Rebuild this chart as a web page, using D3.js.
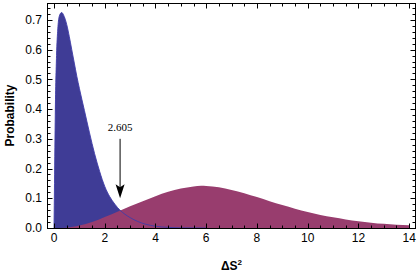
<!DOCTYPE html>
<html><head><meta charset="utf-8">
<script src="https://cdn.jsdelivr.net/npm/d3@7"></script>
<style>html,body{margin:0;padding:0;background:#fff;} svg{display:block;}</style>
</head><body>
<script>
// ---- data ----
const blueX = [0,0.02,0.05,0.1,0.15,0.2,0.3,0.4,0.5,0.6,0.7,0.8,0.9,1.0,1.2,1.4,1.6,1.8,2.0,2.2,2.4,2.6,2.8,3.0,3.3,3.6,4.0,4.5,5.0,6.0,8.0,14.0];
const blueY = [0,0.15,0.38,0.58,0.67,0.71,0.725,0.712,0.685,0.645,0.60,0.555,0.51,0.47,0.395,0.32,0.25,0.19,0.14,0.105,0.08,0.06,0.046,0.035,0.022,0.013,0.006,0.002,0.0005,0,0,0];
const magX = [0,0.5,1,1.5,2,2.5,3,3.5,4,4.5,5,5.5,5.8,6,6.5,7,7.5,8,8.5,9,9.5,10,10.5,11,11.5,12,12.5,13,13.5,14];
const magY = [0,0.001,0.008,0.02,0.037,0.055,0.073,0.09,0.107,0.122,0.133,0.14,0.142,0.141,0.137,0.128,0.117,0.104,0.09,0.077,0.065,0.054,0.044,0.036,0.029,0.023,0.018,0.014,0.011,0.009];
const xTicks = [0,2,4,6,8,10,12,14];
const yTicks = [0.0,0.1,0.2,0.3,0.4,0.5,0.6,0.7];
const markValue = 2.605;
const markLabel = "2.605";
const arrowFrom = 0.3, arrowTo = 0.1;
const xLabel = "ΔS", yLabel = "Probability";

// ---- layout ----
const W = 417, H = 272;
const L = 47, R = 416, T = 3, B = 228;
const svg = d3.select("body").append("svg").attr("width", W).attr("height", H);
const x = d3.scaleLinear().domain([-0.276, 14.27]).range([L, R]);
const y = d3.scaleLinear().domain([0, 0.757]).range([B, T]);

const blue = blueX.map((v,i)=>[v, blueY[i]]);
const mag = magX.map((v,i)=>[v, magY[i]]);
const area = d3.area().x(d=>x(d[0])).y0(y(0)).y1(d=>y(d[1])).curve(d3.curveMonotoneX);
const line = d3.line().x(d=>x(d[0])).y(d=>y(d[1])).curve(d3.curveMonotoneX);

svg.append("path").attr("d", area(blue)).attr("fill", "#3f3c96");
svg.append("path").attr("d", area(mag)).attr("fill", "#983d6e");
svg.append("path").attr("d", line(blue.filter(d=>d[0]<=6))).attr("fill","none").attr("stroke","#3f3ca8").attr("stroke-width",0.9);

// ---- frame ----
const g = svg.append("g");
g.append("rect").attr("x", L+0.5).attr("y", T+0.5).attr("width", R-L-1).attr("height", B-T).attr("fill","none").attr("stroke","#000").attr("stroke-width",1);

const xMinor = d3.range(0, 14.01, 0.5);
const yMinor = d3.range(0, 0.7501, 0.02);
function isMajor(v, arr){ return arr.some(t=>Math.abs(t-v)<1e-6); }
xMinor.forEach(v=>{
  const len = isMajor(v,xTicks)?5:3;
  const px = Math.round(x(v))+0.5;
  g.append("line").attr("x1",px).attr("x2",px).attr("y1",B+0.5).attr("y2",B+0.5-len).attr("stroke","#000");
  g.append("line").attr("x1",px).attr("x2",px).attr("y1",T+0.5).attr("y2",T+0.5+len).attr("stroke","#000");
});
yMinor.forEach(v=>{
  const len = isMajor(Math.round(v*100)/100,yTicks)?5:3;
  const py = Math.round(y(v))+0.5;
  g.append("line").attr("x1",L+0.5).attr("x2",L+0.5+len).attr("y1",py).attr("y2",py).attr("stroke","#000");
  g.append("line").attr("x1",R-0.5).attr("x2",R-0.5-len).attr("y1",py).attr("y2",py).attr("stroke","#000");
});

// tick labels
const font = "'Liberation Sans', Arial, Helvetica, sans-serif";
xTicks.forEach(v=>{
  svg.append("text").attr("x", x(v)).attr("y", 242).attr("text-anchor","middle")
    .attr("font-family",font).attr("font-size",12).text(v);
});
yTicks.forEach(v=>{
  svg.append("text").attr("x", 42).attr("y", y(v)+4.2).attr("text-anchor","end")
    .attr("font-family",font).attr("font-size",12).text(v.toFixed(1));
});

// axis labels
const xl = svg.append("text").attr("x", (L+R)/2).attr("y", 270).attr("text-anchor","middle")
  .attr("font-family",font).attr("font-size",12).attr("font-weight","bold");
xl.append("tspan").text(xLabel);
xl.append("tspan").attr("dy",-5).attr("font-size",8).text("2");
svg.append("text").attr("transform",`translate(14,${(T+B)/2}) rotate(-90)`).attr("text-anchor","middle")
  .attr("font-family",font).attr("font-size",12).attr("font-weight","bold").text(yLabel);

// annotation
const ax = x(markValue);
svg.append("text").attr("x", ax).attr("y", y(arrowFrom)-8).attr("text-anchor","middle")
  .attr("font-family","'Liberation Serif', 'Times New Roman', serif").attr("font-size",11).text(markLabel);
const tipY = y(arrowTo);
svg.append("line").attr("x1",ax).attr("x2",ax).attr("y1",y(arrowFrom)).attr("y2",tipY-10).attr("stroke","#000").attr("stroke-width",1);
svg.append("path").attr("d",`M${ax},${tipY} L${ax-4.5},${tipY-14} L${ax},${tipY-11} L${ax+4.5},${tipY-14} Z`).attr("fill","#000");
</script>
</body></html>
